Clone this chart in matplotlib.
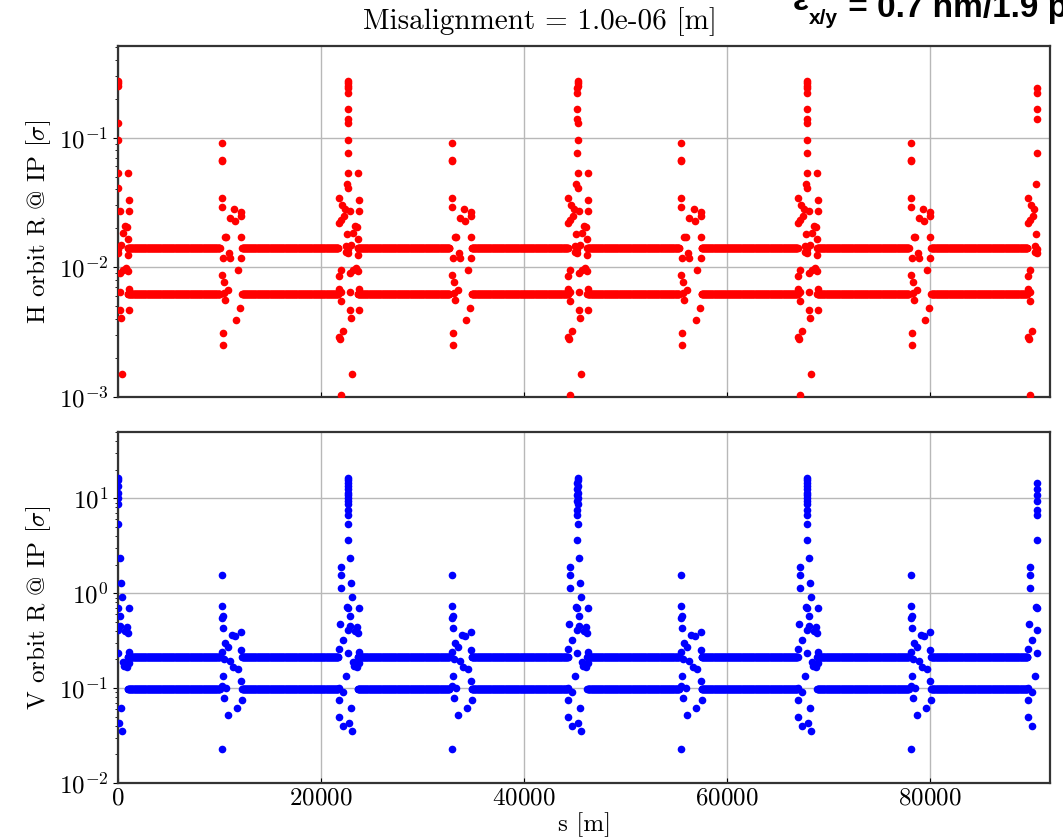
import numpy as np
import matplotlib
matplotlib.use("Agg")
import matplotlib.pyplot as plt

plt.rcParams['font.family'] = 'serif'
plt.rcParams['font.serif'] = ['cmr10', 'DejaVu Serif']
plt.rcParams['mathtext.fontset'] = 'cm'
plt.rcParams['axes.formatter.use_mathtext'] = True

# ring layout (m): IP positions and the mid-arc insertion positions
ip_s = [0, 22645, 45290, 67935, 90580]
mid_s = [11245, 33890, 56535, 79180]
s_end = 90590
band_segments = [(990, 10065), (12235, 21755), (23635, 32710), (34880, 44400),
                 (46280, 55355), (57525, 67045), (68925, 78000), (80170, 89690)]
band_step = 40

# flat orbit levels between the insertions [sigma]
h_band = [0.0142, 0.0062]
v_band = [0.215, 0.097]

# scatter around each IP: offset from IP (m) and value [sigma]
h_ip_ds = [20, 20, 20, -20, -20, -20, 20, -20, 20, -20, 20, 1000,
           -100, 20, -890, 1080, -600, -300, 200, 1080, -400, -890, -700, 690,
           890, 490, 990, -100, -200, 0, 300, -200, 990, 0,
           490, 990, 790, 200, -690, -890, -890, -690, 200, 1080,
           -690, 200, 1080, 300, -490, -890, -790, 400, -690]
h_ip_v = [0.272, 0.262, 0.252, 0.242, 0.221, 0.167, 0.130, 0.140, 0.096, 0.076, 0.053, 0.053,
          0.044, 0.041, 0.034, 0.033, 0.030, 0.028, 0.027, 0.027, 0.025, 0.022, 0.023, 0.021,
          0.0205, 0.0185, 0.0165, 0.018, 0.0145, 0.0138, 0.015, 0.0131, 0.0124, 0.0128,
          0.0095, 0.0094, 0.0098, 0.0091, 0.0095, 0.0085, 0.0068, 0.0065, 0.0064, 0.0068,
          0.0055, 0.0047, 0.0047, 0.0041, 0.0032, 0.0029, 0.0028, 0.0015, 0.00104]

v_ip_ds = [20, 20, -20, 20, -20, 20, -20, 20, -20, 20, -20, -20, 20, -20,
           200, -690, -690, 300, -690, 400, -100, 0, 1080, 200, -790, 200, 890, 690, 990, 0,
           -490, -890, 1080, 0, 490, 1080, 590, 890, -200, -890, -490, -890, 300, -890, 100,
           -490, 400]
v_ip_v = [16.5, 15.5, 14.5, 13.5, 12.5, 11.5, 10.8, 10.0, 9.3, 8.6, 7.5, 6.6, 5.3, 3.6,
          2.35, 1.9, 1.55, 1.28, 1.13, 0.91, 0.72, 0.70, 0.70, 0.58, 0.475, 0.45, 0.44, 0.40, 0.38, 0.41,
          0.32, 0.26, 0.24, 0.235, 0.19, 0.185, 0.17, 0.165, 0.135, 0.10, 0.09, 0.075, 0.062, 0.05, 0.043,
          0.040, 0.035]

# scatter around the mid-arc insertions: offset (m) and value [sigma]
h_mid_ds = [-990, -990, -990, -990, -990, 200, 890, -200, 300, 890, -690, -590, 890,
            -300, -890, -200, 890, 590, -990, -790, -400, -790, -690, 790, 400, -890, -890]
h_mid_v = [0.091, 0.0676, 0.066, 0.034, 0.029, 0.028, 0.0265, 0.024, 0.0227, 0.025, 0.0172, 0.0172, 0.0172,
           0.0130, 0.0119, 0.0117, 0.0117, 0.0095, 0.0087, 0.0077, 0.0067, 0.0063, 0.0056, 0.0049, 0.0039,
           0.0031, 0.0025]

v_mid_ds = [-990, -990, -890, -990, -890, 890, 0, 300, -690, -400, 890, -200, 100, 590,
            -890, 890, -790, 990, 490, -400, -990, -990, -790, -990, -590]
v_mid_v = [1.54, 0.74, 0.58, 0.55, 0.43, 0.39, 0.36, 0.35, 0.30, 0.27, 0.25, 0.195, 0.167, 0.16,
           0.134, 0.119, 0.079, 0.075, 0.062, 0.052, 0.0226, 0.24, 0.20, 0.105, 0.10]


def build(bands, ip_ds, ip_v, mid_ds, mid_v):
    s_all, v_all = [], []
    for lev in bands:
        for a, b in band_segments:
            ss = np.arange(a, b, band_step)
            s_all.append(ss)
            v_all.append(np.full(len(ss), lev))
    for c in ip_s:
        ss = c + np.array(ip_ds, dtype=float)
        keep = (ss >= 0) & (ss <= s_end)
        s_all.append(ss[keep])
        v_all.append(np.array(ip_v)[keep])
    for c in mid_s:
        s_all.append(c + np.array(mid_ds, dtype=float))
        v_all.append(np.array(mid_v))
    return np.concatenate(s_all), np.concatenate(v_all)


hs, hv = build(h_band, h_ip_ds, h_ip_v, h_mid_ds, h_mid_v)
vs, vv = build(v_band, v_ip_ds, v_ip_v, v_mid_ds, v_mid_v)

fig = plt.figure(figsize=(10.63, 8.4), dpi=100)
ax1 = fig.add_axes([0.111, 0.5274, 0.877, 0.4179])
ax2 = fig.add_axes([0.111, 0.0679, 0.877, 0.4179])

for ax, s, v, col, lab, ylim in [(ax1, hs, hv, 'red', r'H orbit R @ IP [$\sigma$]', (1e-3, 0.51)),
                                 (ax2, vs, vv, 'blue', r'V orbit R @ IP [$\sigma$]', (1e-2, 50))]:
    ax.plot(s, v, 'o', color=col, ms=5.5, mec='none', zorder=3)
    ax.set_yscale('log')
    ax.set_xlim(0, 91900)
    ax.set_ylim(*ylim)
    ax.set_ylabel(lab, fontsize=18)
    ax.grid(True, color='#b8b8b8', lw=1.0)
    ax.set_axisbelow(True)
    ax.tick_params(axis='both', labelsize=18)
    ax.tick_params(axis='y', which='both', direction='out')
    ax.tick_params(axis='x', direction='in')
    for sp in ax.spines.values():
        sp.set_color('#333333')
        sp.set_linewidth(1.6)
    ax.set_xticks([0, 20000, 40000, 60000, 80000])

ax1.set_xticklabels([])
ax2.set_xlabel('s [m]', fontsize=18, labelpad=2)

fig.text(0.508, 0.965, 'Misalignment = 1.0e-06 [m]', ha='center', va='baseline', fontsize=21)

eps = fig.text(0.746, 0.988, 'ε', fontsize=24, fontweight='bold', family='Liberation Sans', va='baseline')
sub = plt.annotate('x/y', xy=(1, 0), xycoords=eps, xytext=(0, -5), textcoords='offset points',
                   fontsize=15, fontweight='bold', family='Liberation Sans', va='baseline')
plt.annotate(' = 0.7 nm/1.9 pm', xy=(1, 0), xycoords=eps, xytext=(22, 0), textcoords='offset points',
             fontsize=24, fontweight='bold', family='Liberation Sans', va='baseline')

fig.savefig('out.png', dpi=100)
